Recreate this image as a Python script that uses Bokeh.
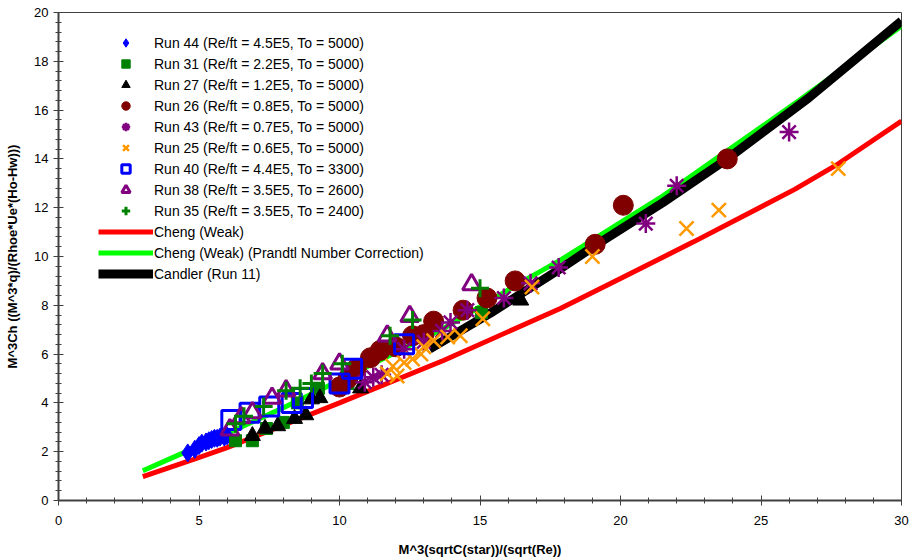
from bokeh.plotting import figure
from bokeh.models import Range1d, SingleIntervalTicker, Legend, LegendItem
from bokeh.embed import file_html
from bokeh.resources import INLINE

# ---- data ----
run44_x = [4.6, 4.85, 5.0, 5.1, 5.25, 5.35, 5.45, 5.55, 5.65, 5.75, 5.9, 6.0]
run44_y = [1.95, 2.1, 2.25, 2.35, 2.4, 2.45, 2.5, 2.55, 2.55, 2.6, 2.6, 2.65]

run31_x = [6.3, 6.9, 7.4, 8.0, 8.5, 9.25, 10.3, 15.05]
run31_y = [2.45, 2.45, 2.95, 3.2, 4.0, 4.6, 4.8, 7.7]

run27_x = [6.9, 7.35, 7.8, 8.4, 8.8, 9.0, 9.3, 10.75, 16.45]
run27_y = [2.65, 2.95, 3.05, 3.35, 3.5, 4.15, 4.2, 4.6, 8.2]

run26_x = [10.0, 10.3, 10.6, 11.1, 11.45, 12.0, 12.6, 13.0, 13.35, 14.4, 15.25, 16.25, 19.1, 20.1, 23.8]
run26_y = [4.65, 5.0, 5.4, 5.85, 6.15, 6.3, 6.75, 6.8, 7.35, 7.8, 8.3, 9.0, 10.5, 12.1, 14.0]

run43_x = [10.9, 11.2, 11.5, 12.3, 13.0, 13.65, 13.95, 14.55, 15.85, 16.8, 17.8, 20.9, 22.0, 26.0]
run43_y = [4.85, 5.05, 5.15, 6.2, 6.5, 6.95, 7.3, 7.8, 8.3, 8.9, 9.55, 11.35, 12.9, 15.1]

run25_x = [11.7, 11.9, 12.05, 12.3, 12.6, 12.9, 13.0, 13.35, 13.85, 14.3, 15.1, 16.85, 19.0, 22.35, 23.5, 27.75]
run25_y = [5.2, 5.5, 5.1, 5.65, 5.8, 6.0, 6.3, 6.55, 6.7, 6.75, 7.45, 8.75, 10.0, 11.15, 11.9, 13.6]

run40_x = [6.15, 6.8, 7.5, 8.3, 8.7, 10.0, 10.45, 12.3]
run40_y = [3.3, 3.6, 3.85, 4.0, 4.2, 4.8, 5.4, 6.4]

run38_x = [6.1, 6.5, 6.9, 7.6, 8.1, 9.4, 10.0, 11.7, 12.5, 14.7]
run38_y = [2.9, 3.4, 3.6, 4.2, 4.5, 5.2, 5.6, 6.75, 7.55, 8.85]

run35_x = [6.3, 6.6, 7.3, 8.1, 8.6, 9.0, 9.4, 10.1, 11.8, 12.6, 15.0]
run35_y = [3.15, 3.45, 3.85, 4.5, 4.6, 4.8, 5.2, 5.6, 6.75, 7.4, 8.7]

cheng_x = [3.0, 4.7, 6.0, 10.0, 13.7, 17.86, 20.0, 22.6, 26.2, 27.75, 30.0]
cheng_y = [0.98, 1.64, 2.17, 4.0, 5.74, 7.87, 9.1, 10.6, 12.75, 13.8, 15.55]

chengpr_x = [3.0, 4.4, 6.0, 8.0, 10.0, 13.7, 16.55, 17.86, 21.4, 26.35, 30.0]
chengpr_y = [1.22, 1.93, 2.75, 3.8, 4.92, 7.05, 9.0, 9.85, 12.4, 16.39, 19.45]

candler_x = [13.2, 15.4, 17.86, 19.1, 21.5, 23.8, 26.7, 30.0]
candler_y = [6.2, 7.7, 9.5, 10.45, 12.2, 14.0, 16.5, 19.65]

labels = [
    "Run 44 (Re/ft = 4.5E5, To = 5000)",
    "Run 31 (Re/ft = 2.2E5, To = 5000)",
    "Run 27 (Re/ft = 1.2E5, To = 5000)",
    "Run 26 (Re/ft = 0.8E5, To = 5000)",
    "Run 43 (Re/ft = 0.7E5, To = 5000)",
    "Run 25 (Re/ft = 0.6E5, To = 5000)",
    "Run 40 (Re/ft = 4.4E5, To = 3300)",
    "Run 38 (Re/ft = 3.5E5, To = 2600)",
    "Run 35 (Re/ft = 3.5E5, To = 2400)",
    "Cheng (Weak)",
    "Cheng (Weak) (Prandtl Number Correction)",
    "Candler (Run 11)",
]

FONT = "Liberation Sans"
AX = "#404040"

p = figure(width=910, height=559, x_range=Range1d(0, 30), y_range=Range1d(0, 20),
           output_backend="svg", toolbar_location=None,
           min_border_left=58, min_border_right=9, min_border_top=12, min_border_bottom=59)
p.grid.visible = False
p.outline_line_color = AX
p.outline_line_width = 1
p.background_fill_color = "white"

p.xaxis.ticker = SingleIntervalTicker(interval=5, num_minor_ticks=5)
p.yaxis.ticker = SingleIntervalTicker(interval=2, num_minor_ticks=5)
for ax in (p.xaxis[0], p.yaxis[0]):
    ax.axis_line_color = AX
    ax.axis_line_width = 2
    ax.major_tick_line_color = AX
    ax.minor_tick_line_color = AX
    ax.major_tick_line_width = 1
    ax.major_tick_in = 5
    ax.major_tick_out = 5
    ax.minor_tick_in = 3
    ax.minor_tick_out = 3
    ax.major_label_text_font = FONT
    ax.major_label_text_font_size = "13px"
    ax.major_label_text_color = "black"
    ax.axis_label_text_font = FONT
    ax.axis_label_text_font_size = "13px"
    ax.axis_label_text_font_style = "bold"
    ax.axis_label_text_color = "black"

p.xaxis.axis_label = "M^3(sqrtC(star))/(sqrt(Re))"
p.yaxis.axis_label = "M^3Ch ((M^3*q)/(Rhoe*Ue*(Ho-Hw)))"
p.xaxis.major_label_standoff = 10
p.xaxis.axis_label_standoff = 14
p.yaxis.major_label_standoff = 5
p.yaxis.axis_label_standoff = 11

# lines (drawn beneath markers)
r_cheng = p.line(cheng_x, cheng_y, line_color="#FF0000", line_width=5)
r_chengpr = p.line(chengpr_x, chengpr_y, line_color="#00FF00", line_width=5)
r_candler = p.line(candler_x, candler_y, line_color="black", line_width=9)

r44 = p.scatter(run44_x, run44_y, marker="diamond", size=18, fill_color="#0000FF", line_color="#0000FF")
r31 = p.scatter(run31_x, run31_y, marker="square", size=12, fill_color="#008000", line_color="#008000")
r27 = p.scatter(run27_x, run27_y, marker="triangle", size=16, fill_color="black", line_color="black")
r26 = p.scatter(run26_x, run26_y, marker="circle", size=20, fill_color="#800000", line_color="#800000")
r43 = p.scatter(run43_x, run43_y, marker="asterisk", size=19, line_color="#800080", line_width=2.5)
r25 = p.scatter(run25_x, run25_y, marker="x", size=20, line_color="#FF9900", line_width=2.5)
r40 = p.scatter(run40_x, run40_y, marker="square", size=19, fill_color=None, line_color="#0000FF", line_width=3)
r38 = p.scatter(run38_x, run38_y, marker="triangle", size=18, fill_color=None, line_color="#800080", line_width=3)
r35 = p.scatter(run35_x, run35_y, marker="cross", size=18, line_color="#008000", line_width=3)

renderers = [r44, r31, r27, r26, r43, r25, r40, r38, r35, r_cheng, r_chengpr, r_candler]
items = [LegendItem(label=l, renderers=[r]) for l, r in zip(labels, renderers)]
legend = Legend(items=items, location=(40, 216), padding=0, margin=0, spacing=0,
                glyph_width=55, glyph_height=21, label_height=21, label_standoff=1,
                label_text_font=FONT, label_text_font_size="14px", label_text_color="black",
                background_fill_alpha=0, border_line_color=None)
p.add_layout(legend, "center")

open("out.html", "w").write(file_html(p, INLINE))
